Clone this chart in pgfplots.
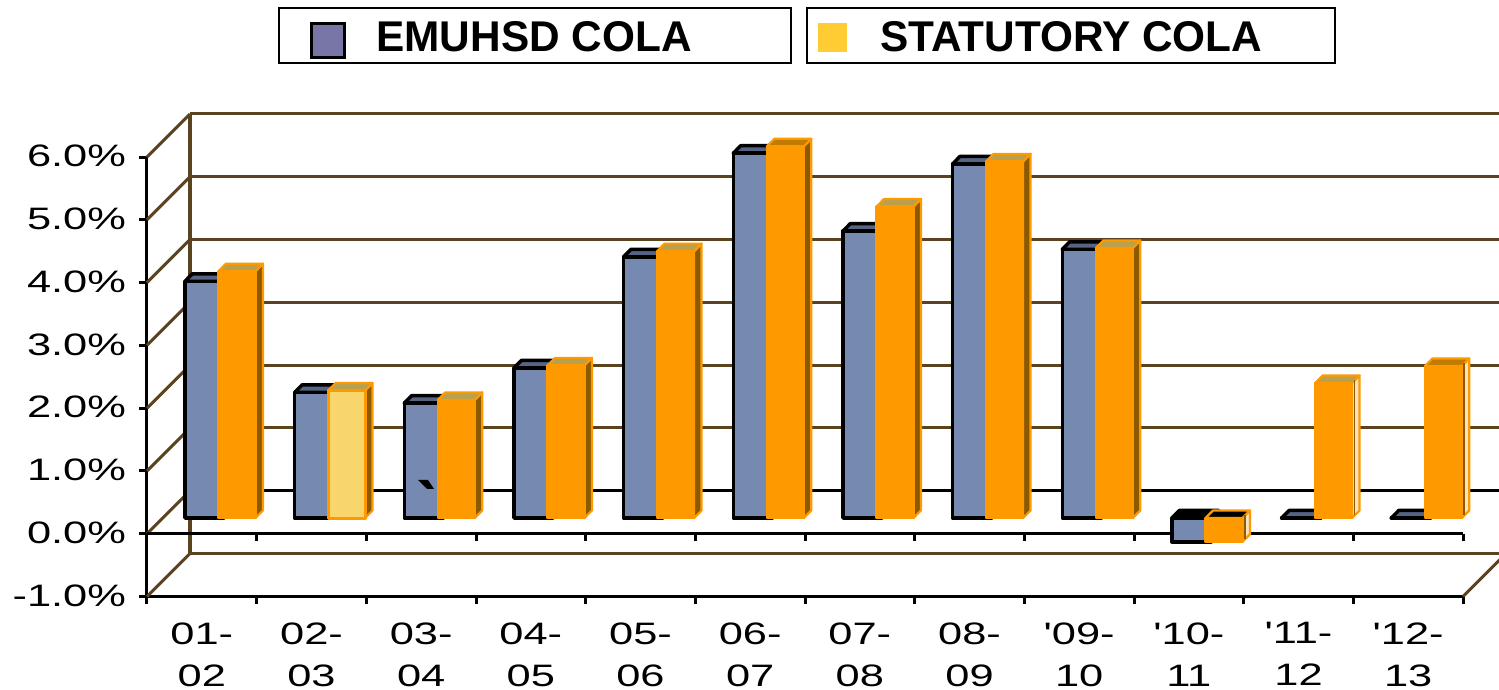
\documentclass[border=0pt]{standalone}
\usepackage{graphicx}
\usepackage{fontspec}
\setmainfont{Liberation Sans}
\usepackage{pgfplots}
\usepackage{pgfplotstable}
\pgfplotsset{compat=1.18}
\definecolor{wall}{HTML}{5B4320}
\definecolor{bluefront}{HTML}{7689B1}
\definecolor{bluetop}{HTML}{566584}
\definecolor{orangefront}{HTML}{FF9900}
\definecolor{orangeside}{HTML}{8B5A00}
\definecolor{tan}{HTML}{B9A04E}
\definecolor{darktop}{HTML}{C07B00}
\definecolor{yellowbar}{HTML}{F8D66C}
\definecolor{swatchA}{HTML}{7876A6}
\definecolor{swatchB}{HTML}{FFCC33}
\definecolor{paleside}{HTML}{F3E3C5}
\newcommand\sx[1]{\scalebox{1.40}[1]{#1}}
\pgfplotstableread{
idx emuhsd statutory
0  3.77  3.93
1  2.00  2.03
2  1.83  1.88
3  2.39  2.43
4  4.16  4.25
5  5.81  5.92
6  4.57  4.96
7  5.64  5.68
8  4.28  4.30
9  -0.38 -0.38
10 0.00  2.15
11 0.00  2.42
}\colatable
% depth of a bar, in axis units
\def\ddx{0.068}
\def\ddy{0.12}
% #1 index, #2 value, #3 left offset, #4 right offset, #5 line, #6 line width, #7 top, #8 side
\newcommand\barfaces[8]{%
  \pgfmathsetmacro\bL{#1+#3}%
  \pgfmathsetmacro\bR{#1+#4}%
  \pgfmathsetmacro\bT{max(#2,0)}%
  \pgfmathsetmacro\bB{min(#2,0)}%
  \pgfmathsetmacro\bLd{\bL+\ddx}%
  \pgfmathsetmacro\bRd{\bR+\ddx}%
  \pgfmathsetmacro\bTd{\bT+\ddy}%
  \pgfmathsetmacro\bBd{\bB+\ddy}%
  \edef\doit{\noexpand\addplot[forget plot,draw=#5,line width=#6,fill=#8,line join=round] coordinates {(\bR,\bB)(\bRd,\bBd)(\bRd,\bTd)(\bR,\bT)} --cycle;
    \noexpand\addplot[forget plot,draw=#5,line width=#6,fill=#7,line join=round] coordinates {(\bL,\bT)(\bR,\bT)(\bRd,\bTd)(\bLd,\bTd)} --cycle;}%
  \doit
}
% brown inner edge of the pale side faces: #1 index, #2 value
\newcommand\sideedge[2]{%
  \pgfmathsetmacro\bR{#1+0.343+0.022}%
  \pgfmathsetmacro\bT{max(#2,0)+0.05}%
  \pgfmathsetmacro\bB{min(#2,0)+0.05}%
  \edef\doit{\noexpand\addplot[forget plot,draw=orangeside,line width=0.9pt] coordinates {(\bR,\bB)(\bR,\bT)};}%
  \doit
}
\begin{document}
\begin{tikzpicture}
\useasboundingbox (0,0) rectangle (749.5pt,345pt);
\clip (0,0) rectangle (749.5pt,345pt);
\begin{axis}[
  at={(73.5pt,46.75pt)},anchor=south west,
  width=658pt,height=219.75pt,scale only axis,
  xmin=-0.5,xmax=11.5,ymin=-1,ymax=6,
  clip=false,
  axis x line=bottom,axis y line=left,
  axis line style={-,line width=1.5pt,black},
  every tick/.style={black,line width=1.5pt},
  tick align=outside,
  major tick length=4pt,minor tick length=4pt,
  xtick={0,...,11},
  major x tick style={draw=none},
  minor xtick={-0.5,0.5,...,11.5},
  xticklabels={{\sx{01-}\\\sx{02}},{\sx{02-}\\\sx{03}},{\sx{03-}\\\sx{04}},{\sx{04-}\\\sx{05}},{\sx{05-}\\\sx{06}},{\sx{06-}\\\sx{07}},{\sx{07-}\\\sx{08}},{\sx{08-}\\\sx{09}},{\sx{\textquotesingle 09-}\\\sx{10}},{\sx{\textquotesingle 10-}\\\sx{11}},{\sx{\textquotesingle 11-}\\\sx{12}},{\sx{\textquotesingle 12-}\\\sx{13}}},
  ytick={-1,0,1,2,3,4,5,6},
  yticklabels={\sx{-1.0\%},\sx{0.0\%},\sx{1.0\%},\sx{2.0\%},\sx{3.0\%},\sx{4.0\%},\sx{5.0\%},\sx{6.0\%}},
  xticklabel style={align=center,font=\fontsize{15.5}{21}\selectfont,yshift=-5.5pt},
  yticklabel style={font=\fontsize{15.5}{18}\selectfont,xshift=-3pt,yshift=0.5pt},
  unbounded coords=jump,
]
% back wall and floor
\addplot[forget plot,wall,line width=1.5pt] coordinates {(-0.108,-0.315)(11.892,-0.315)(nan,nan)(-0.108,1.685)(11.892,1.685)(nan,nan)(-0.108,2.685)(11.892,2.685)(nan,nan)(-0.108,3.685)(11.892,3.685)(nan,nan)(-0.108,4.685)(11.892,4.685)(nan,nan)(-0.108,5.685)(11.892,5.685)(nan,nan)(-0.108,6.685)(11.892,6.685)};
\addplot[forget plot,black,line width=1.5pt] coordinates {(-0.108,0.685)(11.892,0.685)};
\addplot[forget plot,wall,line width=2pt] coordinates {(-0.108,-0.315)(-0.108,6.685)};
\addplot[forget plot,wall,line width=1.5pt] coordinates {(-0.5,-1)(-0.108,-0.315)(nan,nan)(-0.5,0)(-0.108,0.685)(nan,nan)(-0.5,1)(-0.108,1.685)(nan,nan)(-0.5,2)(-0.108,2.685)(nan,nan)(-0.5,3)(-0.108,3.685)(nan,nan)(-0.5,4)(-0.108,4.685)(nan,nan)(-0.5,5)(-0.108,5.685)(nan,nan)(-0.5,6)(-0.108,6.685)(nan,nan)(11.5,-1)(11.892,-0.315)};
% zero line with its ticks
\addplot[forget plot,black,line width=1.5pt] coordinates {(-0.5,0)(11.5,0)};
\addplot[forget plot,black,line width=1.5pt] coordinates {(0.5,0)(0.5,-0.12)(nan,nan)(1.5,0)(1.5,-0.12)(nan,nan)(2.5,0)(2.5,-0.12)(nan,nan)(3.5,0)(3.5,-0.12)(nan,nan)(4.5,0)(4.5,-0.12)(nan,nan)(5.5,0)(5.5,-0.12)(nan,nan)(6.5,0)(6.5,-0.12)(nan,nan)(7.5,0)(7.5,-0.12)(nan,nan)(8.5,0)(8.5,-0.12)(nan,nan)(9.5,0)(9.5,-0.12)(nan,nan)(10.5,0)(10.5,-0.12)(nan,nan)(11.5,0)(11.5,-0.12)};
\end{axis}
\begin{axis}[
  at={(81.5pt,54.6pt)},anchor=south west,
  width=658pt,height=219.75pt,scale only axis,
  xmin=-0.5,xmax=11.5,ymin=-1,ymax=6,
  clip=false,hide axis,
]
% EMUHSD
\pgfplotsforeachungrouped \i in {0,...,11}{%
  \pgfplotstablegetelem{\i}{emuhsd}\of\colatable
  \let\val\pgfplotsretval
  \ifnum\i=9 \def\tc{black}\else\def\tc{bluetop}\fi
  \barfaces{\i}{\val}{-0.3}{0.056}{black}{1.75pt}{\tc}{bluetop}%
}
\addplot[ybar,bar width=0.356,bar shift=-0.122,fill=bluefront,draw=black,line width=1.75pt,line join=round] table[x=idx,y=emuhsd] {\colatable};
% STATUTORY
\pgfplotsforeachungrouped \i in {0,...,11}{%
  \pgfplotstablegetelem{\i}{statutory}\of\colatable
  \let\val\pgfplotsretval
  \def\tc{tan}\def\sc{orangeside}%
  \ifnum\i=5 \def\tc{darktop}\fi
  \ifnum\i=11 \def\tc{darktop}\def\sc{paleside}\fi
  \ifnum\i=10 \def\sc{paleside}\fi
  \ifnum\i=9 \def\tc{black}\def\sc{paleside}\fi
  \barfaces{\i}{\val}{0.006}{0.343}{orangefront}{1.1pt}{\tc}{\sc}%
  \ifnum\i>8 \sideedge{\i}{\val}\fi
}
\addplot[ybar,bar width=0.337,bar shift=0.1745,fill=orangefront,draw=orangefront,line width=1.25pt,line join=round] table[x=idx,y=statutory] {\colatable};
\addplot[forget plot,ybar,bar width=0.337,bar shift=0.1745,fill=yellowbar,draw=orangefront,line width=1.5pt,line join=round] coordinates {(1,2.03)};
\end{axis}
\begin{scope}[x=0.5pt,y=0.5pt]
% stray mark on the third blue bar
\fill[black] (418,210) -- (428,210) -- (434,201) -- (427,201) -- cycle;
% legend
\draw[black,line width=1.25pt,fill=white] (279,627) rectangle (791,682);
\draw[black,line width=1.25pt,fill=white] (807,627) rectangle (1335,682);
\draw[black,line width=1.5pt,fill=swatchA] (311,632) rectangle (344,666);
\fill[swatchB] (818,638) rectangle (847,667);
\node[anchor=base west,inner sep=0pt,font=\fontsize{21.5}{23}\selectfont\bfseries] at (376,638) {\scalebox{0.985}[1]{EMUHSD COLA}};
\node[anchor=base west,inner sep=0pt,font=\fontsize{21.5}{23}\selectfont\bfseries] at (880,638) {\scalebox{0.985}[1]{STATUTORY COLA}};
\end{scope}
\end{tikzpicture}
\end{document}
